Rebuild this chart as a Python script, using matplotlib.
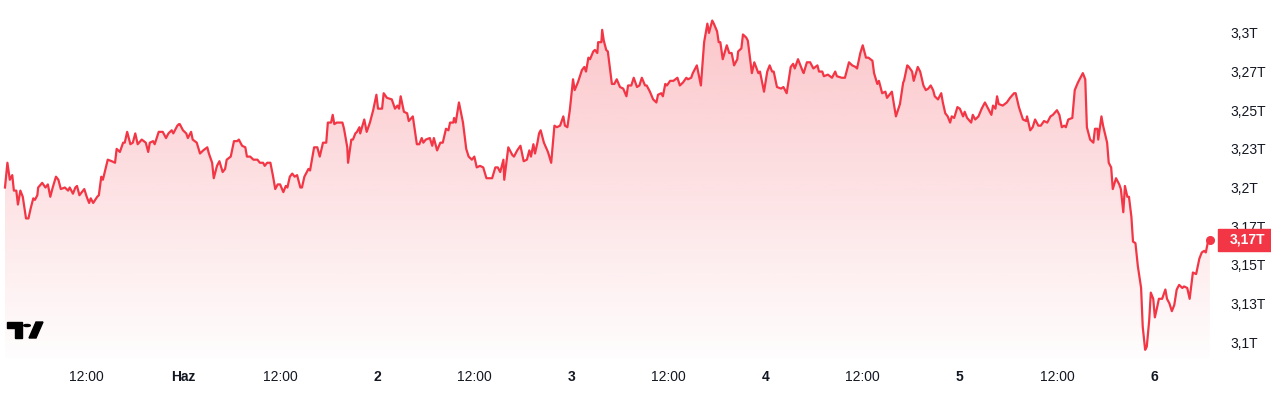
import numpy as np
import matplotlib
matplotlib.use("Agg")
import matplotlib.pyplot as plt
from matplotlib.patches import Polygon, Circle, Rectangle

# hours since 31 May 00:00, and value in trillions
hours = [
    2.0, 2.3, 2.6, 2.9, 3.1, 3.4, 3.6, 3.9, 4.2, 4.6, 4.9, 5.2, 5.5, 5.7, 6.0, 6.1,
    6.6, 7.0, 7.3, 7.6, 7.9, 8.3, 8.6, 8.9, 9.4, 9.8, 10.0, 10.4, 10.7, 10.9, 11.2,
    11.8, 12.1, 12.4, 12.6, 12.9, 13.4, 13.6, 13.9, 14.1, 14.7, 15.2, 15.6, 15.8,
    16.2, 16.6, 16.8, 17.1, 17.5, 17.8, 18.1, 18.4, 18.9, 19.4, 19.7, 19.9, 20.3,
    20.5, 21.0, 21.5, 21.9, 22.2, 22.6, 22.8, 23.3, 23.5, 23.6, 24.0, 24.4, 24.6,
    25.0, 25.2, 25.7, 26.1, 26.5, 27.0, 27.2, 27.6, 27.8, 28.2, 28.5, 28.9, 29.2,
    29.4, 29.9, 30.3, 30.7, 30.9, 31.3, 31.7, 31.9, 32.3, 32.7, 32.9, 33.2, 33.5,
    33.9, 34.1, 34.4, 34.8, 35.1, 35.4, 35.7, 36.0, 36.4, 36.7, 36.9, 37.2, 37.5,
    37.8, 38.1, 38.5, 38.7, 39.0, 39.2, 39.5, 39.7, 40.2, 40.6, 40.9, 41.3, 41.7,
    41.9, 42.3, 42.5, 42.7, 43.0, 43.7, 43.9, 44.3, 44.4, 44.8, 45.0, 45.3, 45.5,
    45.8, 45.9, 46.4, 46.7, 47.1, 47.5, 47.9, 48.1, 48.6, 48.8, 49.2, 49.8, 50.2,
    50.5, 50.7, 50.9, 51.3, 51.7, 51.9, 52.4, 52.9, 53.2, 53.5, 53.7, 54.0, 54.5,
    54.8, 55.0, 55.4, 55.8, 56.1, 56.5, 56.8, 57.0, 57.4, 57.5, 57.7, 58.1, 58.6,
    59.0, 59.3, 59.7, 60.0, 60.3, 60.7, 61.1, 61.5, 61.7, 62.2, 62.6, 62.9, 63.2,
    63.6, 63.7, 64.2, 64.7, 64.9, 65.3, 65.7, 66.1, 66.5, 66.8, 67.0, 67.3, 67.5,
    67.8, 68.0, 68.2, 68.6, 69.1, 69.5, 69.9, 70.2, 70.6, 71.0, 71.2, 71.5, 71.8,
    72.2, 72.4, 72.8, 73.3, 73.6, 73.8, 74.1, 74.3, 74.7, 74.9, 75.2, 75.3, 75.7,
    75.8, 76.0, 76.3, 76.5, 77.0, 77.3, 77.6, 78.0, 78.4, 78.8, 79.0, 79.4, 79.7,
    80.1, 80.4, 80.7, 81.1, 81.3, 81.7, 82.1, 82.5, 82.7, 83.1, 83.3, 83.6, 83.8,
    84.2, 84.6, 85.1, 85.4, 85.8, 86.2, 86.4, 86.8, 87.0, 87.5, 88.0, 88.4, 88.8,
    89.0, 89.4, 89.6, 90.0, 90.2, 90.4, 90.7, 91.2, 91.5, 91.8, 92.1, 92.5, 92.6,
    93.0, 93.2, 93.6, 93.8, 94.3, 94.6, 95.1, 95.3, 95.8, 96.2, 96.5, 96.8, 97.0,
    97.4, 97.9, 98.2, 98.6, 99.1, 99.4, 99.6, 100.0, 100.6, 100.7, 101.1, 101.5,
    101.9, 102.4, 102.6, 103.0, 103.2, 103.7, 104.2, 104.6, 104.8, 105.4, 105.8,
    106.3, 106.7, 107.1, 107.3, 107.7, 108.0, 108.4, 108.7, 109.2, 109.4, 109.8,
    110.0, 110.4, 110.8, 111.0, 111.6, 112.1, 112.6, 113.0, 113.1, 113.5, 113.7,
    114.1, 114.3, 114.8, 115.1, 115.5, 115.8, 116.1, 116.4, 116.7, 116.9, 117.3,
    117.7, 117.9, 118.2, 118.5, 118.8, 119.0, 119.3, 119.7, 120.0, 120.4, 120.6,
    120.9, 121.4, 121.6, 121.9, 122.3, 122.7, 123.1, 123.4, 123.9, 124.1, 124.4,
    124.6, 124.8, 125.3, 125.8, 126.2, 126.7, 126.9, 127.3, 127.8, 128.2, 128.3,
    128.7, 129.0, 129.3, 129.7, 130.0, 130.4, 130.8, 131.2, 131.5, 132.0, 132.3,
    132.6, 132.9, 133.1, 133.4, 133.9, 134.2, 134.6, 134.9, 135.2, 135.5, 135.7,
    136.1, 136.5, 136.7, 137.0, 137.1, 137.5, 137.7, 138.2, 138.4, 138.7, 138.9,
    139.3, 139.7, 139.9, 140.2, 140.4, 140.7, 140.9, 141.2, 141.4, 141.7, 142.0,
    142.4, 142.6, 142.9, 143.1, 143.4, 143.6, 143.9, 144.1, 144.4, 144.6, 145.0,
    145.4, 145.6, 145.9, 146.2, 146.5, 146.8, 147.1, 147.5, 147.7, 148.1, 148.4,
    148.8, 149.2, 149.6, 149.9, 150.2, 150.4, 150.7, 150.9,
]
values = [
    3.200, 3.216, 3.205, 3.208, 3.198, 3.198, 3.189, 3.198, 3.194, 3.180, 3.180,
    3.187, 3.193, 3.192, 3.195, 3.200, 3.203, 3.200, 3.202, 3.194, 3.200, 3.207,
    3.205, 3.199, 3.200, 3.198, 3.200, 3.196, 3.200, 3.201, 3.195, 3.199, 3.194,
    3.190, 3.193, 3.190, 3.194, 3.195, 3.207, 3.205, 3.218, 3.217, 3.216, 3.225,
    3.223, 3.229, 3.229, 3.236, 3.228, 3.229, 3.235, 3.228, 3.231, 3.229, 3.223,
    3.229, 3.230, 3.228, 3.236, 3.236, 3.232, 3.235, 3.237, 3.235, 3.240, 3.241,
    3.241, 3.237, 3.235, 3.232, 3.236, 3.231, 3.229, 3.222, 3.224, 3.226, 3.222,
    3.216, 3.206, 3.214, 3.217, 3.210, 3.212, 3.218, 3.220, 3.230, 3.230, 3.231,
    3.227, 3.226, 3.220, 3.220, 3.218, 3.218, 3.218, 3.216, 3.216, 3.214, 3.216,
    3.216, 3.208, 3.199, 3.202, 3.202, 3.197, 3.201, 3.200, 3.207, 3.209, 3.207,
    3.208, 3.200, 3.200, 3.207, 3.209, 3.212, 3.211, 3.226, 3.226, 3.220, 3.229,
    3.229, 3.242, 3.242, 3.247, 3.241, 3.242, 3.242, 3.238, 3.226, 3.216, 3.231,
    3.231, 3.235, 3.236, 3.239, 3.235, 3.244, 3.236, 3.242, 3.250, 3.260, 3.251,
    3.251, 3.261, 3.258, 3.257, 3.251, 3.253, 3.251, 3.259, 3.249, 3.248, 3.243,
    3.246, 3.228, 3.228, 3.232, 3.229, 3.231, 3.232, 3.227, 3.232, 3.224, 3.229,
    3.229, 3.238, 3.237, 3.242, 3.242, 3.245, 3.242, 3.255, 3.242, 3.225, 3.220,
    3.218, 3.220, 3.213, 3.214, 3.213, 3.206, 3.206, 3.206, 3.213, 3.213, 3.210,
    3.218, 3.205, 3.226, 3.221, 3.220, 3.224, 3.227, 3.217, 3.218, 3.224, 3.220,
    3.228, 3.222, 3.229, 3.235, 3.237, 3.229, 3.223, 3.216, 3.240, 3.239, 3.240,
    3.246, 3.240, 3.239, 3.250, 3.270, 3.263, 3.268, 3.276, 3.278, 3.275, 3.284,
    3.283, 3.288, 3.289, 3.287, 3.294, 3.294, 3.302, 3.295, 3.289, 3.288, 3.267,
    3.267, 3.270, 3.265, 3.264, 3.259, 3.266, 3.266, 3.271, 3.265, 3.266, 3.271,
    3.266, 3.266, 3.262, 3.257, 3.255, 3.260, 3.261, 3.259, 3.267, 3.266, 3.269,
    3.269, 3.271, 3.266, 3.268, 3.271, 3.270, 3.271, 3.274, 3.279, 3.266, 3.294,
    3.306, 3.300, 3.308, 3.306, 3.301, 3.294, 3.294, 3.283, 3.292, 3.287, 3.287,
    3.279, 3.283, 3.288, 3.290, 3.299, 3.297, 3.295, 3.274, 3.281, 3.274, 3.275,
    3.262, 3.275, 3.279, 3.275, 3.275, 3.265, 3.264, 3.265, 3.261, 3.278, 3.280,
    3.277, 3.283, 3.275, 3.274, 3.281, 3.281, 3.277, 3.279, 3.275, 3.275, 3.272,
    3.273, 3.271, 3.275, 3.272, 3.271, 3.271, 3.281, 3.279, 3.278, 3.277, 3.287,
    3.292, 3.284, 3.284, 3.282, 3.274, 3.267, 3.269, 3.261, 3.262, 3.258, 3.262,
    3.246, 3.254, 3.268, 3.269, 3.279, 3.278, 3.275, 3.269, 3.278, 3.275, 3.266,
    3.263, 3.264, 3.266, 3.263, 3.259, 3.257, 3.261, 3.255, 3.248, 3.246, 3.242,
    3.246, 3.245, 3.252, 3.251, 3.246, 3.249, 3.245, 3.242, 3.247, 3.244, 3.246,
    3.251, 3.255, 3.252, 3.247, 3.253, 3.251, 3.259, 3.254, 3.253, 3.255, 3.258,
    3.261, 3.261, 3.252, 3.244, 3.243, 3.246, 3.237, 3.239, 3.244, 3.240, 3.240,
    3.243, 3.242, 3.246, 3.247, 3.250, 3.247, 3.239, 3.240, 3.239, 3.244, 3.245,
    3.263, 3.268, 3.271, 3.274, 3.270, 3.239, 3.231, 3.229, 3.238, 3.238, 3.231,
    3.246, 3.240, 3.229, 3.216, 3.213, 3.199, 3.206, 3.202, 3.199, 3.184, 3.201,
    3.194, 3.194, 3.181, 3.165, 3.164, 3.149, 3.135, 3.110, 3.095, 3.097, 3.114,
    3.132, 3.128, 3.116, 3.123, 3.128, 3.128, 3.134, 3.128, 3.125, 3.120, 3.124,
    3.134, 3.137, 3.135, 3.136, 3.135, 3.128, 3.145, 3.144, 3.154, 3.158, 3.159,
    3.158, 3.166, 3.166,
]

ytick_vals = [3.1, 3.125, 3.15, 3.175, 3.2, 3.225, 3.25, 3.275, 3.3]
ytick_labels = ["3,1T", "3,13T", "3,15T", "3,17T", "3,2T", "3,23T", "3,25T", "3,27T", "3,3T"]
xtick_hours = [12, 24, 36, 48, 60, 72, 84, 96, 108, 120, 132, 144]
xtick_labels = ["12:00", "Haz", "12:00", "2", "12:00", "3", "12:00", "4", "12:00", "5", "12:00", "6"]
last_label = "3,17T"

RED = "#F23645"
TXT = "#131722"
W, H = 1271, 395

plt.rcParams["font.family"] = ["Liberation Sans", "DejaVu Sans"]
fig = plt.figure(figsize=(W / 100, H / 100), dpi=100)
ax = fig.add_axes([0, (H - 358) / H, 1220 / W, 358 / H])

x = np.array(hours)
y = np.array(values)
ylo, yhi = 3.0897, 3.3213
ax.set_xlim(1.385, 152.15)
ax.set_ylim(ylo, yhi)

# gradient fill under the line
grad = np.zeros((256, 1, 4))
grad[..., 0] = 242 / 255
grad[..., 1] = 54 / 255
grad[..., 2] = 69 / 255
grad[..., 3] = np.linspace(0.30, 0.01, 256)[:, None]
img = ax.imshow(grad, aspect="auto", extent=[x[0], x[-1], ylo, yhi],
                origin="upper", zorder=1)
clip = Polygon(np.vstack([np.column_stack([x, y]), [[x[-1], ylo], [x[0], ylo]]]),
               closed=True, transform=ax.transData, facecolor="none", edgecolor="none")
ax.add_patch(clip)
img.set_clip_path(clip)

ax.plot(x, y, color=RED, lw=1.6, zorder=3, solid_joinstyle="round")
ax.plot(x[-1], y[-1], "o", color=RED, ms=5.5, zorder=4)

for s in ax.spines.values():
    s.set_visible(False)
ax.yaxis.tick_right()
ax.set_yticks(ytick_vals)
ax.set_yticklabels(ytick_labels)
ax.set_xticks(xtick_hours)
ax.set_xticklabels(xtick_labels)
ax.tick_params(axis="both", length=0, labelsize=10, colors=TXT)
ax.tick_params(axis="y", pad=7.5)
ax.tick_params(axis="x", pad=8.5)
for t in ax.get_xticklabels():
    if t.get_text() != "12:00":
        t.set_fontweight("bold")

# last value tag
fig.patches.append(Rectangle((1218 / W, 1 - 251 / H), 53 / W, 22 / H,
                             transform=fig.transFigure, color=RED, zorder=5))
fig.text(1230 / W, 1 - 240 / H, last_label, color="white", fontsize=10,
         fontweight="bold", va="center", ha="left", zorder=6)

# small logo, bottom left
def px(pts):
    return [(a / W, 1 - b / H) for a, b in pts]

logo = dict(transform=fig.transFigure, color="#000000", zorder=5)
fig.patches.append(Polygon(px([(7, 322), (22, 322), (22, 338), (15, 338), (15, 328), (7, 328)]), **logo))
fig.patches.append(Circle((27 / W, 1 - 325.5 / H), 3.3 / W, **logo))
fig.patches.append(Polygon(px([(36, 322), (43, 322), (36, 338), (29, 338)]), **logo))

fig.savefig("out.png", dpi=100, facecolor="white")
